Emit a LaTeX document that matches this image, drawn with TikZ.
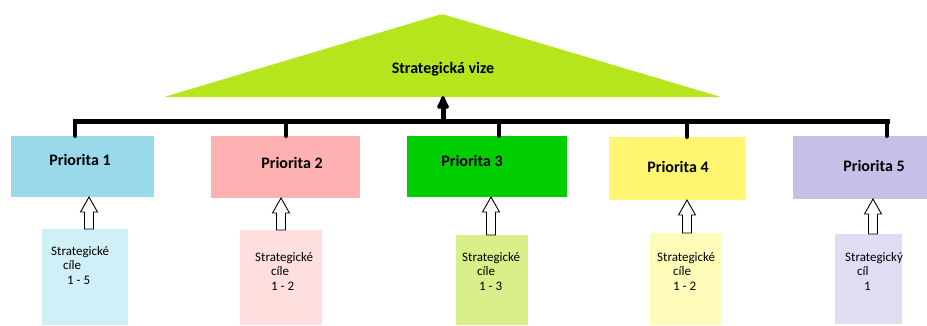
\documentclass[tikz,border=0pt]{standalone}
\usepackage{fontspec}
\setmainfont{Carlito}
\usetikzlibrary{arrows.meta,calc}

\definecolor{vision}{RGB}{181,230,29}
\definecolor{prio1}{RGB}{153,217,234}
\definecolor{prio2}{RGB}{255,176,176}
\definecolor{prio3}{RGB}{0,206,0}
\definecolor{prio4}{RGB}{255,245,112}
\definecolor{prio5}{RGB}{200,191,231}
\definecolor{goal1}{RGB}{208,239,247}
\definecolor{goal2}{RGB}{255,222,222}
\definecolor{goal3}{RGB}{217,240,138}
\definecolor{goal4}{RGB}{255,251,184}
\definecolor{goal5}{RGB}{226,220,243}

\tikzset{
  box/.style={rectangle, inner sep=0pt, outer sep=0pt},
  prioText/.style={font=\fontsize{16}{19}\selectfont\bfseries},
  goalText/.style={font=\fontsize{13}{14.5}\selectfont, align=left, anchor=base west, inner sep=0pt},
  bar/.style={line width=5pt, line cap=rect},
  drop/.style={line width=4pt, line cap=round},
  hollow/.style={draw=black, fill=white, line width=0.9pt, line join=miter},
}

\begin{document}
\begin{tikzpicture}[x=1pt, y=-1pt]
% Canvas
\useasboundingbox (0,0) rectangle (927,325);

% Constants
\def\barY{121} % Height of the horizontal bar
\def\headLen{15pt} % Length of the hollow arrow heads
\def\headHalf{8.5pt} % Half width of the hollow arrow heads
\def\shaftHalf{4.5pt} % Half width of the hollow arrow shafts

% Draw the vision triangle
\coordinate (tri-left) at (164,97);
\coordinate (tri-top) at (442,14);
\coordinate (tri-right) at (721,97);
\fill[vision, rounded corners=2pt] (tri-left) -- (tri-top) -- (tri-right) -- cycle;
\node[prioText] (vize) at (443,69) {Strategická vize};

% Draw the priority boxes
\foreach \i/\xa/\ya/\xb/\yb in {1/11/136/154/197, 2/211/136/360/198, 3/407/136/567/197, 4/609/137/745/200, 5/793/136/927/199} {
    % Calculate the size of the box
    \pgfmathsetmacro\w{\xb-\xa}
    \pgfmathsetmacro\h{\yb-\ya}
    \node[box, fill=prio\i, minimum width=\w pt, minimum height=\h pt] (prio-\i) at ({(\xa+\xb)/2}, {(\ya+\yb)/2}) {};
}

% Priority labels
\foreach \i/\lx/\ly in {1/80/160, 2/292/163, 3/472/161, 4/678/167, 5/874/166} {
    \node[prioText] (prio-label-\i) at (\lx,\ly) {Priorita \i};
}

% Draw the goal boxes
\foreach \i/\xa/\ya/\xb/\yb in {1/42/229/128/325, 2/240/230/322/325, 3/456/235/528/325, 4/650/233/721/325, 5/835/234/902/324} {
    \pgfmathsetmacro\w{\xb-\xa}
    \pgfmathsetmacro\h{\yb-\ya}
    \node[box, fill=goal\i, minimum width=\w pt, minimum height=\h pt] (goal-\i) at ({(\xa+\xb)/2}, {(\ya+\yb)/2}) {};
}

% Goal texts (anchored at the baseline of the last line)
\node[goalText] (goal-text-1) at (51,284) {Strategické\\\hspace{12pt}cíle\\\hspace{16pt}1 - 5};
\node[goalText] (goal-text-2) at (255,290) {Strategické\\\hspace{16pt}cíle\\\hspace{16pt}1 - 2};
\node[goalText] (goal-text-3) at (462,290) {Strategické\\\hspace{15pt}cíle\\\hspace{17pt}1 - 3};
\node[goalText] (goal-text-4) at (657,290) {Strategické\\\hspace{16pt}cíle\\\hspace{16pt}1 - 2};
\node[goalText] (goal-text-5) at (845,290) {Strategický\\\hspace{12pt}cíl\\\hspace{19pt}1};

% Horizontal bar and the drops to the priorities
\foreach \i/\dx in {1/75, 2/286, 3/499, 4/687, 5/887} {
    \coordinate (drop-\i) at (\dx,\barY);
}
\draw[bar] (drop-1) -- (drop-5);
\foreach \i in {1,...,5} {
    \draw[drop] (drop-\i) -- (drop-\i |- prio-\i.north);
}

% Arrow from the bar up to the vision
\coordinate (vize-base) at (443,96);
\coordinate (bar-mid) at (443,\barY);
\draw[line width=5pt, -{Latex[length=17pt, width=15pt, round]}] (bar-mid) -- (vize-base);

% Hollow arrows from the goals to the priorities
\foreach \i/\ax in {1/89, 2/281, 3/491, 4/687, 5/873} {
    \coordinate (arrow-\i) at (\ax,0);
    \draw[hollow] let \p1=(goal-\i.north -| arrow-\i), \p2=(prio-\i.south -| arrow-\i) in
        (\x1-\shaftHalf,\y1) -- (\x1-\shaftHalf,\y2-\headLen) -- (\x1-\headHalf,\y2-\headLen) -- (\x2,\y2)
        -- (\x1+\headHalf,\y2-\headLen) -- (\x1+\shaftHalf,\y2-\headLen) -- (\x1+\shaftHalf,\y1) -- cycle;
}

\end{tikzpicture}
\end{document}
